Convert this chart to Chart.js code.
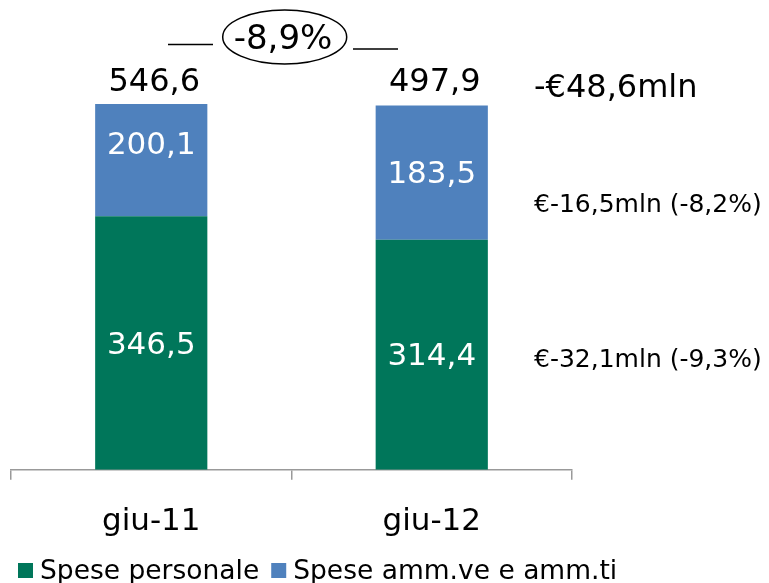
<!DOCTYPE html>
<html>
<head>
<meta charset="utf-8">
<script src="https://cdn.jsdelivr.net/npm/chart.js@4.4.0/dist/chart.umd.min.js"></script>
<style>
  html, body { margin: 0; padding: 0; background: #fff; }
  #wrap { width: 769px; height: 583px; position: relative; }
</style>
</head>
<body>
<div id="wrap"><canvas id="chart"></canvas></div>
<script>
const categories = ['giu-11', 'giu-12'];
const seriesNames = ['Spese personale', 'Spese amm.ve e amm.ti'];
const spesePersonale = [346.5, 314.4];
const speseAmm = [200.1, 183.5];
const deltaTotale = '-8,9%';
const deltaNotes = ['-€48,6mln', '€-16,5mln (-8,2%)', '€-32,1mln (-9,3%)'];

const GREEN = '#00765A';
const BLUE = '#4F81BD';
const FONT = '"DejaVu Sans", Verdana, sans-serif';

function fmt(v){
  return v.toFixed(1).replace('.', ',');
}

// labels, totals, the -8,9% bubble and the notes on the right
const annotations = {
  id: 'annotations',
  afterDatasetsDraw(chart){
    const ctx = chart.ctx;
    const area = chart.chartArea;
    ctx.save();
    ctx.textAlign = 'center';
    ctx.textBaseline = 'middle';

    // values inside the bars
    ctx.fillStyle = '#fff';
    ctx.font = '31px ' + FONT;
    chart.data.datasets.forEach((ds, i) => {
      chart.getDatasetMeta(i).data.forEach((bar, j) => {
        ctx.fillText(fmt(ds.data[j]), bar.x, (bar.y + bar.base) / 2 + 2.5);
      });
    });

    // totals above the bars
    ctx.fillStyle = '#000';
    ctx.font = '32px ' + FONT;
    const meta = chart.getDatasetMeta(0);
    categories.forEach((c, j) => {
      const tot = spesePersonale[j] + speseAmm[j];
      ctx.fillText(fmt(tot), meta.data[j].x + 3, area.top - 21);
    });

    // bubble with the total change
    ctx.strokeStyle = '#000';
    ctx.lineWidth = 1.5;
    ctx.beginPath();
    ctx.ellipse(284.7, 37, 62, 27, 0, 0, Math.PI * 2);
    ctx.stroke();
    ctx.beginPath();
    ctx.moveTo(168, 44.5); ctx.lineTo(213, 44.5);
    ctx.moveTo(353, 49); ctx.lineTo(398, 49);
    ctx.stroke();
    ctx.font = '34px ' + FONT;
    ctx.fillText(deltaTotale, 283, 40);

    // notes on the right
    ctx.textAlign = 'left';
    ctx.font = '32px ' + FONT;
    ctx.fillText(deltaNotes[0], 534, 89);
    ctx.font = '25px ' + FONT;
    ctx.fillText(deltaNotes[1], 534, 205);
    ctx.fillText(deltaNotes[2], 534, 360);

    // legend
    ctx.font = '26.5px ' + FONT;
    ctx.textBaseline = 'alphabetic';
    let x = 18;
    chart.data.datasets.forEach(ds => {
      ctx.fillStyle = ds.backgroundColor;
      ctx.fillRect(x, 563, 15, 15);
      ctx.fillStyle = '#000';
      ctx.fillText(ds.label, x + 22, 579);
      x += 22 + ctx.measureText(ds.label).width + 12;
    });
    ctx.restore();
  }
};

new Chart(document.getElementById('chart'), {
  type: 'bar',
  data: {
    labels: categories,
    datasets: [
      { label: seriesNames[0], data: spesePersonale, backgroundColor: GREEN, clip: 0 },
      { label: seriesNames[1], data: speseAmm, backgroundColor: BLUE, clip: 0 }
    ]
  },
  options: {
    responsive: true,
    maintainAspectRatio: false,
    animation: false,
    layout: { padding: { left: 11, right: 197, top: 104, bottom: 18 } },
    categoryPercentage: 0.4,
    barPercentage: 1,
    plugins: {
      legend: { display: false },
      tooltip: { enabled: false }
    },
    scales: {
      x: {
        stacked: true,
        grid: { drawOnChartArea: false, drawTicks: true, tickLength: 10, color: '#999999', lineWidth: 1.5 },
        border: { display: true, color: '#999999', width: 1.5 },
        ticks: { color: '#000', font: { family: FONT, size: 31 }, padding: 24 }
      },
      y: {
        stacked: true,
        display: false,
        min: 0,
        max: 500
      }
    }
  },
  plugins: [annotations]
});
</script>
</body>
</html>
